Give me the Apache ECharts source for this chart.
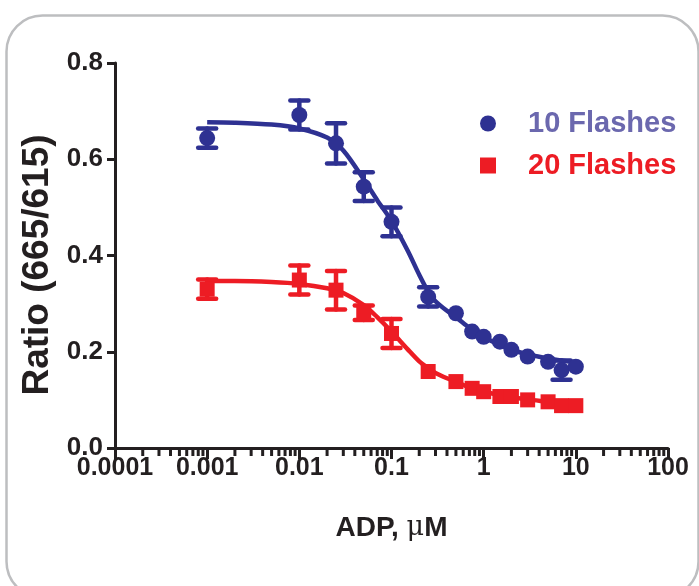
<!DOCTYPE html>
<html><head><meta charset="utf-8">
<script src="https://cdn.jsdelivr.net/npm/echarts@6/dist/echarts.min.js"></script>
<style>html,body{margin:0;padding:0;background:#fff}#c{width:699px;height:586px}</style>
</head><body><div id="c"></div>
<script>
// ---- data ----
const xTickLabels = ['0.0001', '0.001', '0.01', '0.1', '1', '10', '100'];
const yTickLabels = ['0.0', '0.2', '0.4', '0.6', '0.8'];
const concentrations = [0.001, 0.01, 0.025, 0.05, 0.1, 0.25, 0.5, 0.75, 1, 1.5, 2, 3, 5, 7, 10];
const flashes10 = [0.644, 0.692, 0.633, 0.543, 0.470, 0.314, 0.280, 0.242, 0.231, 0.221, 0.204, 0.190, 0.179, 0.162, 0.169];
const flashes10Err = [0.02, 0.03, 0.042, 0.03, 0.03, 0.02, 0, 0, 0, 0, 0, 0, 0, 0.02, 0];
const flashes20 = [0.330, 0.349, 0.328, 0.281, 0.238, 0.159, 0.138, 0.124, 0.117, 0.107, 0.107, 0.100, 0.096, 0.088, 0.088];
const flashes20Err = [0.02, 0.03, 0.04, 0.015, 0.03, 0, 0, 0, 0, 0, 0, 0, 0, 0, 0];
const fitX = [0.001, 0.002, 0.005, 0.01, 0.02, 0.03, 0.05, 0.07, 0.1, 0.15, 0.2, 0.25, 0.3, 0.4, 0.5, 0.7, 1, 2, 3, 5, 10];
const fit10 = [0.677, 0.676, 0.672, 0.664, 0.645, 0.618, 0.558, 0.515, 0.472, 0.410, 0.360, 0.325, 0.305, 0.285, 0.272, 0.250, 0.230, 0.204, 0.195, 0.186, 0.178];
const fit20 = [0.347, 0.347, 0.345, 0.341, 0.332, 0.322, 0.297, 0.272, 0.242, 0.205, 0.180, 0.166, 0.156, 0.145, 0.138, 0.126, 0.117, 0.106, 0.101, 0.096, 0.089];
const seriesNames = ['10 Flashes', '20 Flashes'];
const yAxisTitle = 'Ratio (665/615)';

// ---- styles ----
const BLUE = '#2E3192';
const RED = '#ED1C24';
const BLUE_TXT = '#6B68AE';
const INK = '#231F20';
const FONT = '"Liberation Sans", Arial, sans-serif';

const zip = (xs, ys) => xs.map((x, i) => [x, ys[i]]);
const zip3 = (xs, ys, es) => xs.map((x, i) => [x, ys[i], es[i]]);

// minor tick values (2..9 per decade) for the log axis
const minorTicks = [];
for (let e = -4; e < 2; e++) for (let m = 2; m <= 9; m++) minorTicks.push([m * Math.pow(10, e), 0]);

function errRender(color) {
  return function (params, api) {
    const x = api.value(0), y = api.value(1), e = api.value(2);
    if (!e) return null;
    const top = api.coord([x, y + e]);
    const bot = api.coord([x, y - e]);
    const hw = 9;
    const st = { stroke: color, lineWidth: 4.5, lineCap: 'round' };
    return {
      type: 'group',
      children: [
        { type: 'line', shape: { x1: top[0], y1: top[1], x2: bot[0], y2: bot[1] }, style: st },
        { type: 'line', shape: { x1: top[0] - hw, y1: top[1], x2: top[0] + hw, y2: top[1] }, style: st },
        { type: 'line', shape: { x1: bot[0] - hw, y1: bot[1], x2: bot[0] + hw, y2: bot[1] }, style: st }
      ]
    };
  };
}

const chart = echarts.init(document.getElementById('c'), null, { renderer: 'canvas' });
chart.setOption({
  backgroundColor: '#fff',
  animation: false,
  graphic: [
    {
      type: 'rect', left: 4, top: 13, z: -1,
      shape: { width: 692, height: 582, r: 36 },
      style: { fill: 'none', stroke: '#BDBEC0', lineWidth: 2.5 }
    },
    {
      type: 'text', x: 38, y: 265, rotation: Math.PI / 2,
      style: { text: yAxisTitle, fontFamily: FONT, fontWeight: 'bold', fontSize: 37, fill: INK,
               align: 'center', verticalAlign: 'middle' }
    }
  ],
  grid: { left: 115, right: 31, top: 63, bottom: 138, containLabel: false },
  legend: {
    orient: 'vertical', left: 475, top: 104, itemWidth: 16, itemHeight: 16, itemGap: 13,
    textStyle: { fontFamily: FONT, fontWeight: 'bold', fontSize: 29, padding: [0, 0, 0, 27] },
    data: [
      { name: seriesNames[0], icon: 'circle', textStyle: { color: BLUE_TXT } },
      { name: seriesNames[1], icon: 'rect', textStyle: { color: RED } }
    ]
  },
  xAxis: {
    type: 'log', logBase: 10, min: 0.0001, max: 100, splitNumber: 6,
    name: '{b|ADP, }{m|μ}{b|M}', nameLocation: 'middle', nameGap: 66,
    nameTextStyle: {
      rich: {
        b: { fontFamily: FONT, fontWeight: 'bold', fontSize: 28, color: INK },
        m: { fontFamily: '"DejaVu Serif", "Liberation Serif", serif', fontSize: 27, color: INK }
      }
    },
    axisLine: { show: true, onZero: false, lineStyle: { color: INK, width: 3 } },
    axisTick: { show: true, inside: false, length: 11, lineStyle: { color: INK, width: 3 } },
    minorTick: { show: false },
    splitLine: { show: false },
    axisLabel: {
      margin: 8, fontFamily: FONT, fontWeight: 'bold', fontSize: 25, color: INK,
      formatter: v => xTickLabels[Math.round(Math.log10(v)) + 4]
    }
  },
  yAxis: {
    type: 'value', min: 0, max: 0.8, interval: 0.2,
    axisLine: { show: true, lineStyle: { color: INK, width: 3 } },
    axisTick: { show: true, inside: false, length: 8, lineStyle: { color: INK, width: 3 } },
    splitLine: { show: false },
    axisLabel: {
      margin: 12, fontFamily: FONT, fontWeight: 'bold', fontSize: 26, color: INK,
      formatter: v => yTickLabels[Math.round(v / 0.2)]
    }
  },
  series: [
    {
      name: 'minor', type: 'custom', clip: false, silent: true, z: 1,
      data: minorTicks,
      renderItem: (params, api) => {
        const p = api.coord([api.value(0), 0]);
        return { type: 'line', shape: { x1: p[0], y1: p[1], x2: p[0], y2: p[1] + 8 },
                 style: { stroke: INK, lineWidth: 3 } };
      }
    },
    { name: 'fit10', type: 'line', data: zip(fitX, fit10), smooth: 0.3, showSymbol: false,
      lineStyle: { color: BLUE, width: 4.5 }, z: 2 },
    { name: 'fit20', type: 'line', data: zip(fitX, fit20), smooth: 0.3, showSymbol: false,
      lineStyle: { color: RED, width: 4.5 }, z: 2 },
    { name: 'err10', type: 'custom', data: zip3(concentrations, flashes10, flashes10Err),
      renderItem: errRender(BLUE), z: 3 },
    { name: 'err20', type: 'custom', data: zip3(concentrations, flashes20, flashes20Err),
      renderItem: errRender(RED), z: 3 },
    { name: seriesNames[0], type: 'scatter', data: zip(concentrations, flashes10),
      symbol: 'circle', symbolSize: 16, itemStyle: { color: BLUE, opacity: 1 }, z: 4 },
    { name: seriesNames[1], type: 'scatter', data: zip(concentrations, flashes20),
      symbol: 'rect', symbolSize: 15, itemStyle: { color: RED, opacity: 1 }, z: 4 }
  ]
});
</script>
</body></html>
